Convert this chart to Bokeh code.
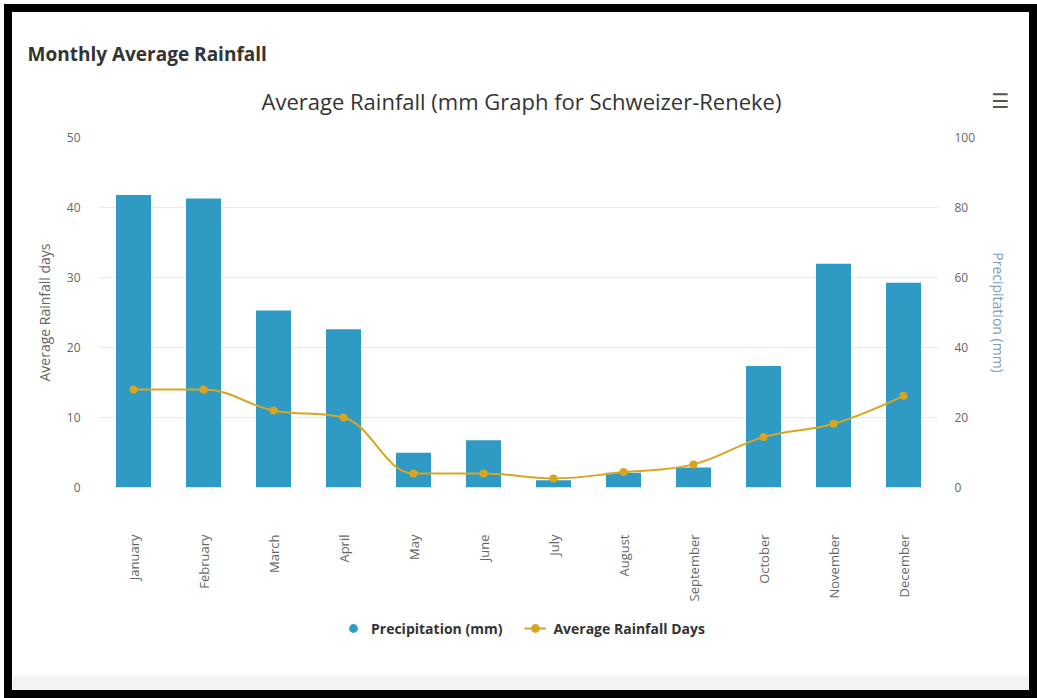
import math
from bokeh.plotting import figure
from bokeh.models import (Range1d, LinearAxis, FixedTicker, Legend, LegendItem,
                          ColumnDataSource, Label, BoxAnnotation)
from bokeh.layouts import column
from bokeh.embed import file_html
from bokeh.resources import INLINE

# ---------------- data ----------------
months = ["January", "February", "March", "April", "May", "June", "July",
          "August", "September", "October", "November", "December"]
precip_mm = [83.6, 82.6, 50.6, 45.2, 9.9, 13.5, 2.1, 4.2, 5.7, 34.7, 63.9, 58.5]
rain_days = [14, 14, 11, 10, 2, 2, 1.3, 2.2, 3.3, 7.2, 9.1, 13.1]
left_ticks = [0, 10, 20, 30, 40, 50]
right_ticks = [0, 20, 40, 60, 80, 100]

title_main = "Average Rainfall (mm Graph for Schweizer-Reneke)"
header = "Monthly Average Rainfall"

FONT = "Open Sans"
BAR_COLOR = "#2f9bc5"
LINE_COLOR = "#d8a51f"
W = 1017

xs = list(range(len(months)))


def no_frame_align(fig):
    try:
        fig.frame_align = False
    except Exception:
        pass


# ---------------- header strip ----------------
top = figure(width=W, height=115, output_backend="svg", toolbar_location=None,
             x_range=Range1d(0, 1), y_range=Range1d(0, 1),
             x_axis_location=None, y_axis_location=None, min_border=0,
             outline_line_color=None, border_fill_color="white")
no_frame_align(top)
top.xgrid.visible = False
top.ygrid.visible = False
top.add_layout(Label(x=15, y=74, x_units="screen", y_units="screen", text=header,
                     text_font=FONT, text_font_size="19px", text_font_style="bold",
                     text_color="#333333", text_baseline="middle", text_align="left"))
top.add_layout(Label(x=509, y=27, x_units="screen", y_units="screen", text=title_main,
                     text_font=FONT, text_font_size="22px", text_color="#333333",
                     text_baseline="middle", text_align="center"))
top.add_layout(Label(x=988, y=27, x_units="screen", y_units="screen", text="\u2630",
                     text_font="DejaVu Sans", text_font_size="20px", text_color="#555555",
                     text_font_style="bold", text_baseline="middle", text_align="center"))

# ---------------- main chart ----------------
p = figure(frame_width=840, frame_height=350, output_backend="svg", toolbar_location=None,
           x_range=Range1d(-0.5, len(months) - 0.5), y_range=Range1d(0, 50),
           min_border_left=86, min_border_right=91, min_border_top=10, min_border_bottom=125,
           outline_line_color=None, background_fill_color="white", border_fill_color="white")
no_frame_align(p)
p.extra_y_ranges = {"mm": Range1d(0, 100)}

p.xaxis.ticker = FixedTicker(ticks=xs)
p.xaxis.major_label_overrides = {i: m for i, m in enumerate(months)}
p.xaxis.major_label_orientation = math.pi / 2
p.xaxis.major_label_standoff = 41
p.xaxis.axis_line_color = None
p.xaxis.major_tick_line_color = None
p.xaxis.minor_tick_line_color = None
p.xaxis.major_label_text_font = FONT
p.xaxis.major_label_text_font_size = "13px"
p.xaxis.major_label_text_color = "#666666"

p.yaxis.ticker = FixedTicker(ticks=left_ticks)
p.yaxis.axis_label = "Average Rainfall days"
p.yaxis.axis_label_standoff = 10
p.yaxis.major_label_standoff = 12
for ax in [p.yaxis]:
    ax.axis_line_color = None
    ax.major_tick_line_color = None
    ax.minor_tick_line_color = None
    ax.major_label_text_font = FONT
    ax.major_label_text_font_size = "12px"
    ax.major_label_text_color = "#666666"
    ax.axis_label_text_font = FONT
    ax.axis_label_text_font_size = "14px"
    ax.axis_label_text_font_style = "normal"
    ax.axis_label_text_color = "#666666"

raxis = LinearAxis(y_range_name="mm", ticker=FixedTicker(ticks=right_ticks),
                   axis_label="Precipitation (mm)")
raxis.axis_line_color = None
raxis.major_tick_line_color = None
raxis.minor_tick_line_color = None
raxis.major_label_text_font = FONT
raxis.major_label_text_font_size = "12px"
raxis.major_label_text_color = "#666666"
raxis.major_label_standoff = 10
raxis.axis_label_standoff = 11
raxis.axis_label_text_font = FONT
raxis.axis_label_text_font_size = "14px"
raxis.axis_label_text_font_style = "normal"
raxis.axis_label_text_color = "#7c9db2"
p.add_layout(raxis, "right")

p.xgrid.grid_line_color = None
p.ygrid.ticker = FixedTicker(ticks=left_ticks)
p.ygrid.grid_line_color = "#e9e9e9"
p.ygrid.grid_line_width = 1

bar_src = ColumnDataSource(dict(x=xs, top=precip_mm))
p.vbar(x="x", top="top", width=0.5, source=bar_src, y_range_name="mm",
       fill_color=BAR_COLOR, line_color=None)

# spline (Highcharts-like control points)
def spline_ctrl(xv, yv, smoothing=1.5):
    n = len(xv)
    lc, rc = [None] * n, [None] * n
    for i in range(n):
        px, py = xv[i], yv[i]
        if i == 0 or i == n - 1:
            lc[i] = rc[i] = (px, py)
            continue
        lx, ly = xv[i - 1], yv[i - 1]
        nx, ny = xv[i + 1], yv[i + 1]
        d = smoothing + 1
        lcx, lcy = (smoothing * px + lx) / d, (smoothing * py + ly) / d
        rcx, rcy = (smoothing * px + nx) / d, (smoothing * py + ny) / d
        if rcx != lcx:
            corr = ((rcy - lcy) * (rcx - px)) / (rcx - lcx) + py - rcy
            lcy += corr
            rcy += corr
        if lcy > max(ly, py):
            lcy = max(ly, py); rcy = 2 * py - lcy
        elif lcy < min(ly, py):
            lcy = min(ly, py); rcy = 2 * py - lcy
        if rcy > max(py, ny):
            rcy = max(py, ny); lcy = 2 * py - rcy
        elif rcy < min(py, ny):
            rcy = min(py, ny); lcy = 2 * py - rcy
        lc[i] = (lcx, lcy)
        rc[i] = (rcx, rcy)
    seg = dict(x0=[], y0=[], x1=[], y1=[], cx0=[], cy0=[], cx1=[], cy1=[])
    for i in range(1, n):
        seg["x0"].append(xv[i - 1]); seg["y0"].append(yv[i - 1])
        seg["x1"].append(xv[i]); seg["y1"].append(yv[i])
        seg["cx0"].append(rc[i - 1][0]); seg["cy0"].append(rc[i - 1][1])
        seg["cx1"].append(lc[i][0]); seg["cy1"].append(lc[i][1])
    return seg

seg_src = ColumnDataSource(spline_ctrl(xs, rain_days))
p.bezier(x0="x0", y0="y0", x1="x1", y1="y1", cx0="cx0", cy0="cy0", cx1="cx1", cy1="cy1",
         source=seg_src, line_color=LINE_COLOR, line_width=2)
pt_src = ColumnDataSource(dict(x=xs, y=rain_days))
p.scatter(x="x", y="y", source=pt_src, size=8, marker="circle",
          fill_color=LINE_COLOR, line_color=None)

# ---------------- legend strip ----------------
leg = figure(width=W, height=78, output_backend="svg", toolbar_location=None,
             x_range=Range1d(0, 1), y_range=Range1d(0, 1),
             x_axis_location=None, y_axis_location=None, min_border=0,
             outline_line_color=None, border_fill_color="white")
no_frame_align(leg)
leg.xgrid.visible = False
leg.ygrid.visible = False
leg.add_layout(BoxAnnotation(bottom=0, top=15, bottom_units="screen", top_units="screen",
                             fill_color="#f2f3f5", fill_alpha=1.0, line_color=None))
# proxy renderers (their single point lies outside the visible range)
proxy = ColumnDataSource(dict(x=[-10], y=[-10]))
lg_circle = leg.scatter(x="x", y="y", source=proxy, size=11, marker="circle",
                        fill_color=BAR_COLOR, line_color=None)
lg_line = leg.line(x="x", y="y", source=proxy, line_color=LINE_COLOR, line_width=2)
lg_dot = leg.scatter(x="x", y="y", source=proxy, size=7, marker="circle",
                     fill_color=LINE_COLOR, line_color=None)
legend = Legend(items=[LegendItem(label="Precipitation (mm)", renderers=[lg_circle]),
                       LegendItem(label="Average Rainfall Days", renderers=[lg_line, lg_dot])],
                location=(330, 48), orientation="horizontal",
                padding=0, margin=0, spacing=22, glyph_width=22, glyph_height=28,
                label_height=28, label_standoff=7,
                label_text_font=FONT, label_text_font_size="14px",
                label_text_font_style="bold", label_text_color="#333333",
                background_fill_alpha=0, border_line_color=None)
leg.add_layout(legend, "center")

layout = column(top, p, leg, spacing=0,
                styles={"border": "8px solid black", "margin-left": "4px", "margin-top": "4px"})

open("out.html", "w").write(file_html(layout, INLINE))
